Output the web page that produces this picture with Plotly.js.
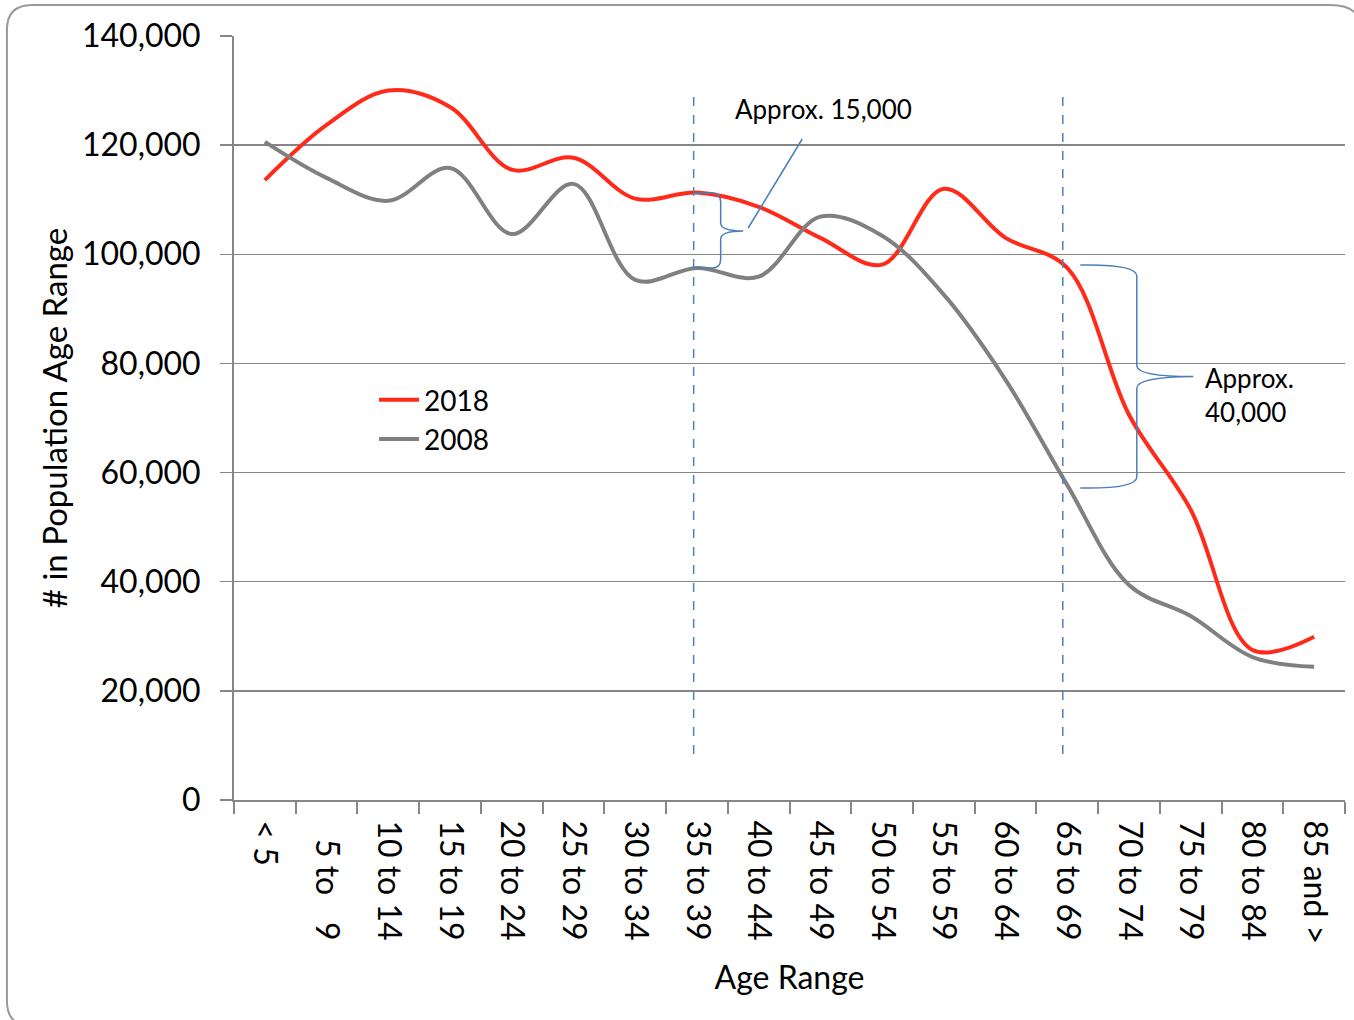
<!DOCTYPE html>
<html>
<head>
<meta charset="utf-8">
<script src="https://cdn.plot.ly/plotly-3.0.1.min.js"></script>
<style>html,body{margin:0;padding:0;background:#fff;}#chart{width:1354px;height:1020px;}</style>
</head>
<body>
<div id="chart"></div>
<script>
// ---- data ----
var ageRanges = ["< 5", "\u20075 to \u20079", "10 to 14", "15 to 19", "20 to 24", "25 to 29", "30 to 34", "35 to 39", "40 to 44", "45 to 49", "50 to 54", "55 to 59", "60 to 64", "65 to 69", "70 to 74", "75 to 79", "80 to 84", "85 and >"];
var pop2018 = [113600, 123700, 130000, 127000, 115500, 117700, 110200, 111300, 108700, 103000, 98100, 112000, 103000, 97500, 70600, 53200, 27500, 29900];
var pop2008 = [120600, 114000, 109800, 115800, 103700, 112900, 95300, 97500, 95900, 106900, 103400, 92600, 77000, 57700, 39400, 33700, 26200, 24400];
var yTicks = [0, 20000, 40000, 60000, 80000, 100000, 120000, 140000];

// ---- layout geometry ----
var W = 1354, H = 1020;
var L = 234, R = 1344.6, T = 36, B = 800;
function px(x){ return (x - L) / (R - L); }
function py(y){ return (B - y) / (B - T); }
function path(pts){
  return pts.map(function(p){
    var s = p[0];
    for (var i = 1; i < p.length; i += 2) { s += px(p[i]).toFixed(5) + ',' + py(p[i+1]).toFixed(5) + ' '; }
    return s;
  }).join(' ');
}

var FONT = "Lato, 'Open Sans', sans-serif";
var annBlue = '#4a7ebb';

var traces = [
  {x: ageRanges, y: pop2018, name: '2018', type: 'scatter', mode: 'lines',
   line: {color: '#ff2a1a', width: 4, shape: 'spline', smoothing: 1}},
  {x: ageRanges, y: pop2008, name: '2008', type: 'scatter', mode: 'lines',
   line: {color: '#808080', width: 4, shape: 'spline', smoothing: 1}}
];

var shapes = [
  // outer rounded frame
  {type: 'path', xref: 'paper', yref: 'paper', layer: 'below',
   path: path([['M', 7, 30], ['Q', 7, 5, 32, 5], ['L', 1330, 5], ['Q', 1360, 5, 1362, 30], ['L', 1362, 1026], ['L', 32, 1026], ['Q', 7, 1026, 7, 1001], ['Z']]),
   line: {color: '#9a9a9a', width: 2}, fillcolor: 'rgba(0,0,0,0)'},
  // dashed verticals
  {type: 'line', xref: 'paper', yref: 'paper', x0: px(693.5), x1: px(693.5), y0: py(97), y1: py(757),
   line: {color: '#4f81bd', width: 1.5, dash: 'dash'}},
  {type: 'line', xref: 'paper', yref: 'paper', x0: px(1062.5), x1: px(1062.5), y0: py(97), y1: py(757),
   line: {color: '#4f81bd', width: 1.5, dash: 'dash'}},
  // brace 1
  {type: 'path', xref: 'paper', yref: 'paper',
   path: path([['M', 693, 193], ['L', 712, 193], ['Q', 720.5, 193, 720.5, 202], ['L', 720.5, 223], ['Q', 720.5, 231, 743, 231], ['M', 743, 231], ['Q', 720.5, 231, 720.5, 239], ['L', 720.5, 259], ['Q', 720.5, 268, 712, 268], ['L', 693, 268]]),
   line: {color: annBlue, width: 1.5}},
  // leader line
  {type: 'line', xref: 'paper', yref: 'paper', x0: px(748), y0: py(228), x1: px(802), y1: py(139),
   line: {color: annBlue, width: 1.5}},
  // brace 2
  {type: 'path', xref: 'paper', yref: 'paper',
   path: path([['M', 1080, 265], ['Q', 1136, 264, 1136.5, 276], ['L', 1136.5, 366], ['Q', 1137, 376.5, 1193, 376.5], ['M', 1193, 376.5], ['Q', 1137, 377, 1136.5, 388], ['L', 1136.5, 477], ['Q', 1136, 489, 1080, 488]]),
   line: {color: annBlue, width: 1.5}}
];

var annotations = [
  {xref: 'paper', yref: 'paper', x: px(823.5), y: py(109), text: 'Approx. 15,000', showarrow: false,
   xanchor: 'center', yanchor: 'middle', font: {family: FONT, size: 26, color: '#000'}},
  {xref: 'paper', yref: 'paper', x: px(1203), y: py(395), text: 'Approx.<br>40,000', showarrow: false, align: 'left',
   xanchor: 'left', yanchor: 'middle', font: {family: FONT, size: 26, color: '#000'}}
];

var layout = {
  width: W, height: H,
  margin: {l: L, r: W - R, t: T, b: H - B, pad: 0},
  paper_bgcolor: '#ffffff', plot_bgcolor: '#ffffff',
  font: {family: FONT, color: '#000'},
  showlegend: true,
  legend: {x: px(374), y: py(375), xanchor: 'left', yanchor: 'top', bgcolor: 'rgba(0,0,0,0)',
           font: {family: FONT, size: 28, color: '#000'}, tracegroupgap: 0, itemwidth: 40},
  xaxis: {
    type: 'category', range: [-0.5, ageRanges.length - 0.5], fixedrange: true,
    showgrid: false, zeroline: false, showline: true, linecolor: '#868686', linewidth: 2,
    ticks: 'outside', tickson: 'boundaries', ticklen: 12, tickcolor: '#868686', tickwidth: 2,
    tickangle: 90, ticklabelstandoff: 12, tickfont: {family: FONT, size: 32, color: '#000'},
    title: {text: 'Age Range', font: {family: FONT, size: 32, color: '#000'}, standoff: 23}
  },
  yaxis: {
    range: [0, 140000], tickvals: yTicks, tickformat: ',d', fixedrange: true,
    showgrid: true, gridcolor: '#868686', gridwidth: 1.5, zeroline: false,
    showline: true, linecolor: '#868686', linewidth: 2,
    ticks: 'outside', ticklen: 12, tickcolor: '#868686', tickwidth: 1.5,
    ticklabelstandoff: 13, tickfont: {family: FONT, size: 32, color: '#000'},
    title: {text: '# in Population Age Range', font: {family: FONT, size: 33, color: '#000'}, standoff: 4}
  },
  shapes: shapes,
  annotations: annotations,
  hovermode: false
};

Plotly.newPlot('chart', traces, layout, {displayModeBar: false, staticPlot: true});
</script>
</body>
</html>
